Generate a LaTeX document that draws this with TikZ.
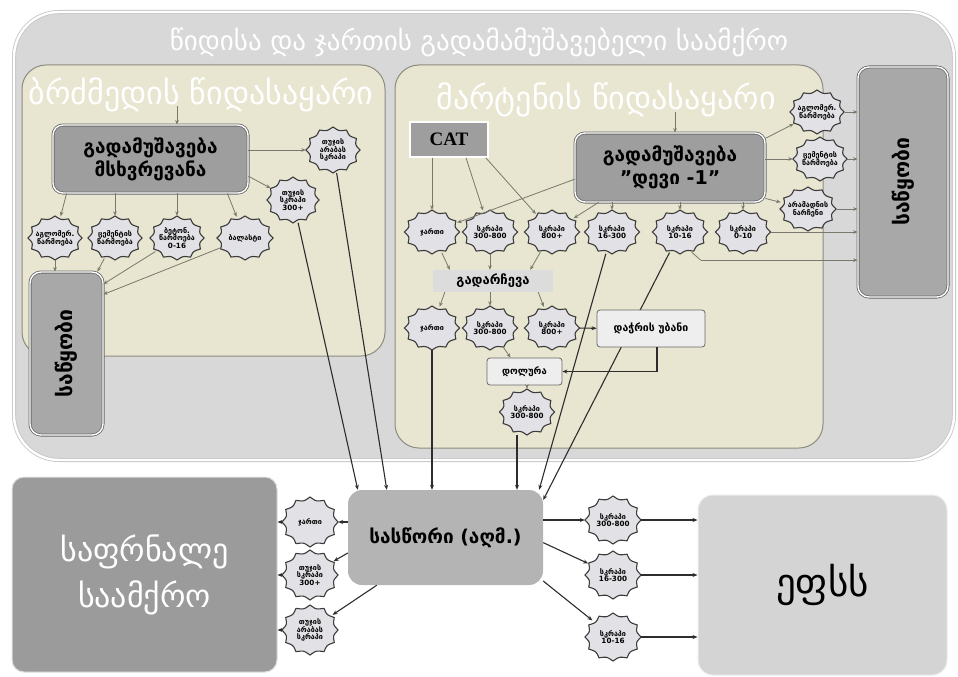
\documentclass[tikz,border=0pt]{standalone}
\usepackage{fontspec}
\usepackage{graphicx}
\setmainfont{DejaVu Sans}
\newfontfamily\catfont{Liberation Serif}
\usetikzlibrary{arrows.meta,shapes.geometric}
\definecolor{plantfill}{RGB}{216,216,216}
\definecolor{plantedge}{RGB}{196,196,196}
\definecolor{beige}{RGB}{232,229,208}
\definecolor{beigeedge}{RGB}{140,140,128}
\definecolor{darkbox}{RGB}{158,158,158}
\definecolor{darkedge}{RGB}{105,105,105}
\definecolor{storefill}{RGB}{168,168,168}
\definecolor{sealfill}{RGB}{226,226,230}
\definecolor{sealdraw}{RGB}{60,60,60}
\definecolor{garrowc}{RGB}{120,120,108}
\definecolor{darrowc}{RGB}{45,45,45}
\definecolor{sortfill}{RGB}{220,220,220}
\definecolor{lightbox}{RGB}{238,238,238}
\definecolor{scalefill}{RGB}{180,180,180}
\definecolor{shopfill}{RGB}{155,155,155}
\definecolor{epsfill}{RGB}{212,212,212}
% seal: name, x, y, width, height, text
\newcommand\sealnode[6]{%
  \draw[fill=sealfill,draw=sealdraw,line width=1.1pt,shift={(#2,#3)}]
    plot[domain=0:360,samples=181,variable=\t]
    ({(#4/2)*(1-0.12*abs(sin(6*\t)))*cos(\t)},{(#5/2)*(1-0.12*abs(sin(6*\t)))*sin(\t)}) -- cycle;
  \node[sealtext,minimum width=#4pt,minimum height=#5pt] (#1) at (#2,#3) {#6};}
\begin{document}
\begin{tikzpicture}[x=1pt,y=-1pt,
 garrow/.style={draw=garrowc,line width=0.8pt,-{Stealth[length=4.5pt,width=3.6pt]}},
 darrow/.style={draw=darrowc,line width=1.1pt,-{Stealth[length=5pt,width=4pt]}},
 panel/.style={draw=beigeedge,line width=1pt,fill=beige,rounded corners=24pt,inner sep=0pt},
 head/.style={text=white,font=\fontsize{32}{36}\selectfont},
 procbox/.style={draw=darkedge,double=white,double distance=1.4pt,line width=0.8pt,fill=darkbox,rounded corners=10pt,align=center,font=\fontsize{19}{23}\selectfont\bfseries,inner sep=0pt},
 storebox/.style={draw=darkedge,double=white,double distance=1.4pt,line width=0.8pt,fill=storefill,rounded corners=11pt,inner sep=0pt,font=\fontsize{21}{23}\selectfont\bfseries},
 sealtext/.style={ellipse,inner sep=0pt,align=center,font=\fontsize{7.2}{7.8}\selectfont\bfseries},
]
\useasboundingbox (0,0) rectangle (958,677);
% containers
\node[draw=plantedge,double=white,double distance=2.4pt,line width=0.8pt,fill=plantfill,rounded corners=45pt,minimum width=940pt,minimum height=448pt,inner sep=0pt] (plant) at (484,236) {};
\node[text=white,font=\fontsize{27}{30}\selectfont] (title) at (479,42) {წიდისა და ჯართის გადამამუშავებელი საამქრო};
\node[panel,minimum width=363pt,minimum height=291pt] (bfpanel) at (203.5,210.5) {};
\node[panel,minimum width=428pt,minimum height=383pt] (ohpanel) at (609,256.5) {};
\node[head] (bfhead) at (201,95) {ბრძმედის წიდასაყარი};
\node[head] (ohhead) at (606,100) {მარტენის წიდასაყარი};
% blast furnace side
\node[procbox,minimum width=195pt,minimum height=68pt] (bfproc) at (150.5,159) {გადამუშავება\\მსხვრევანა};
\node[storebox,minimum width=73pt,minimum height=163pt] (bfstore) at (66.5,353.5) {\rotatebox{90}{საწყობი}};
\sealnode{T1}{333}{150}{54}{46}{თუჯის\\არაბას\\სკრაპი}
\sealnode{T2}{293}{200}{52}{46}{თუჯის\\სკრაპი\\300+}
\sealnode{S1}{55}{238}{54}{44}{აგლომერ.\\წარმოება}
\sealnode{S2}{115}{238}{54}{44}{ცემენტის\\წარმოება}
\sealnode{S3}{177}{238}{54}{44}{ბეტონ.\\წარმოება\\0-16}
\sealnode{S4}{245}{238}{56}{44}{ბალასტი}
% open hearth side
\node[draw=white,line width=1.5pt,fill=darkbox,minimum width=78pt,minimum height=35pt,inner sep=0pt,font=\catfont\fontsize{19}{20}\selectfont\bfseries] (CAT) at (449,139.5) {CAT};
\node[procbox,minimum width=190pt,minimum height=69pt] (devi) at (670,167.5) {გადამუშავება\\"დევი -1"};
\node[storebox,minimum width=90pt,minimum height=230pt] (ohstore) at (903,182) {\rotatebox{90}{საწყობი}};
\sealnode{R1}{817}{112}{54}{44}{აგლომერ.\\წარმოება}
\sealnode{R2}{820}{159}{54}{44}{ცემენტის\\წარმოება}
\sealnode{R3}{808}{209}{56}{44}{არამადნის\\ნარჩენი}
\sealnode{J1}{432}{232}{55}{44}{ჯართი}
\sealnode{A1}{490}{232}{55}{44}{სკრაპი\\300-800}
\sealnode{B1}{552}{232}{55}{44}{სკრაპი\\800+}
\sealnode{C1}{612}{232}{55}{44}{სკრაპი\\16-300}
\sealnode{D1}{680}{232}{55}{44}{სკრაპი\\10-16}
\sealnode{E1}{743}{232}{55}{44}{სკრაპი\\0-10}
\node[fill=sortfill,minimum width=120pt,minimum height=22pt,inner sep=0pt,font=\fontsize{13}{14}\selectfont\bfseries] (sort) at (493,281) {გადარჩევა};
\sealnode{J2}{432}{328}{55}{44}{ჯართი}
\sealnode{A2}{490}{328}{55}{44}{სკრაპი\\300-800}
\sealnode{B2}{552}{328}{55}{44}{სკრაპი\\800+}
\node[draw=darkedge,line width=0.8pt,fill=lightbox,rounded corners=3pt,minimum width=75pt,minimum height=27pt,inner sep=0pt,font=\fontsize{9.5}{12}\selectfont\bfseries] (drum) at (524.5,371.5) {დოლურა};
\sealnode{A3}{527}{412}{55}{46}{სკრაპი\\300-800}
% bottom
\node[fill=scalefill,rounded corners=14pt,minimum width=195pt,minimum height=95pt,inner sep=0pt,font=\fontsize{19}{21}\selectfont\bfseries] (scale) at (445.5,537.5) {სასწორი (აღმ.)};
\node[draw=white!75!gray,line width=1pt,fill=shopfill,rounded corners=12pt,minimum width=265pt,minimum height=195pt,inner sep=0pt,align=center,text=white,font=\fontsize{32}{46}\selectfont] (shop) at (144.5,574.5) {საფრნალე\\საამქრო};
\node[draw=white!85!gray,line width=1pt,fill=epsfill,rounded corners=15pt,minimum width=249pt,minimum height=180pt,inner sep=0pt,font=\fontsize{39}{42}\selectfont] (eps) at (822.5,585) {ეფსს};
\sealnode{L1}{310}{522}{56}{50}{ჯართი}
\sealnode{L2}{310}{575}{56}{50}{თუჯის\\სკრაპი\\300+}
\sealnode{L3}{310}{630}{56}{50}{თუჯის\\არაბას\\სკრაპი}
\sealnode{Q1}{613}{520}{56}{48}{სკრაპი\\300-800}
\sealnode{Q2}{613}{575}{56}{48}{სკრაპი\\16-300}
\sealnode{Q3}{613}{637}{56}{48}{სკრაპი\\10-16}
% line passing behind the cutting box
\draw[darrow] (D1) -- (scale.21);
\node[draw=darkedge,line width=0.8pt,fill=lightbox,rounded corners=3pt,minimum width=108pt,minimum height=37pt,inner sep=0pt,font=\fontsize{10.5}{12}\selectfont\bfseries] (cut) at (651,328.5) {დაჭრის უბანი};
% blast furnace connectors
\coordinate (bfin) at (177,106);
\draw[garrow] (bfin) -- (bfin |- bfproc.north);
\draw[garrow] (bfproc.east |- T1) -- (T1);
\draw[garrow] (bfproc.-10) -- (T2);
\draw[garrow] ([xshift=14pt]bfproc.south west) -- (S1);
\draw[garrow] (bfproc.south -| S2) -- (S2);
\draw[garrow] (bfproc.south -| S3) -- (S3);
\draw[garrow] ([xshift=-21pt]bfproc.south east) -- (S4);
\draw[garrow] (S1) -- (S1 |- bfstore.north);
\draw[garrow] (S2) -- ([xshift=-6pt]bfstore.north east);
\draw[garrow] (S3) -- (bfstore.62);
\draw[garrow] (S4) -- (bfstore.58);
% open hearth connectors
\coordinate (ohin) at (675,112);
\draw[garrow] (ohin) -- (ohin |- devi.north);
\draw[garrow] (CAT.south -| J1) -- (J1);
\draw[garrow] ([xshift=17pt]CAT.south) -- (A1);
\draw[garrow] ([xshift=-3pt]CAT.south east) -- (B1);
\draw[garrow] (devi.187) -- (J1);
\draw[garrow] ([xshift=24pt]devi.south west) -- (B1);
\draw[garrow] (devi.south -| C1) -- (C1);
\draw[garrow] (devi.south -| D1) -- (D1);
\draw[garrow] (devi.south -| E1) -- (E1);
\draw[garrow] (devi.17) -- (R1);
\draw[garrow] (devi.east |- R2) -- (R2);
\draw[garrow] (devi.-18) -- (R3);
\draw[garrow] (R1) -- (R1 -| ohstore.west);
\draw[garrow] (R2) -- (R2 -| ohstore.west);
\draw[garrow] (R3) -- (R3 -| ohstore.west);
\draw[garrow] (E1) -- (E1 -| ohstore.west);
\draw[draw=garrowc,line width=0.8pt] (D1.-60) -- ++(9,8) coordinate (dk);
\draw[garrow] (dk) -- (dk -| ohstore.west);
\draw[garrow] (J1) -- ([xshift=17pt]sort.north west);
\draw[garrow] (A1) -- (A1 |- sort.north);
\draw[garrow] (B1) -- ([xshift=-23pt]sort.north east);
\draw[garrow] ([xshift=12pt]sort.south west) -- (J2);
\draw[garrow] (sort.south -| A2) -- (A2);
\draw[garrow] ([xshift=-15pt]sort.south east) -- (B2);
\draw[darrow] (B2) -- (cut);
\draw[garrow] (A2) -- ([xshift=-14pt]drum.north);
\draw[darrow] ([xshift=6pt]cut.south) |- (drum.east);
\draw[garrow] (drum.south -| A3) -- (A3);
% long lines to the scale
\coordinate (a3out) at ([xshift=-10pt]A3.south);
\draw[darrow] (T1) -- ([xshift=39pt]scale.north west);
\draw[darrow] (T2) -- ([xshift=10pt]scale.north west);
\draw[darrow] (J2) -- (J2 |- scale.north);
\draw[darrow] (a3out) -- (a3out |- scale.north);
\draw[darrow] (C1) -- (scale.27);
% bottom connectors
\draw[darrow] (scale.west |- L1) -- (L1);
\draw[darrow] (L1) -- (L1 -| shop.east);
\draw[darrow] (scale.189) -- (L2);
\draw[darrow] (L2) -- (L2 -| shop.east);
\draw[darrow] ([xshift=29pt]scale.south west) -- (L3);
\draw[darrow] (L3) -- (L3 -| shop.east);
\draw[darrow] (scale.east |- Q1) -- (Q1);
\draw[darrow] (scale.-3) -- (Q2);
\draw[darrow] (scale.-24) -- (Q3);
\draw[darrow] (Q1) -- (Q1 -| eps.west);
\draw[darrow] (Q2) -- (Q2 -| eps.west);
\draw[darrow] (Q3) -- (Q3 -| eps.west);
\end{tikzpicture}
\end{document}
